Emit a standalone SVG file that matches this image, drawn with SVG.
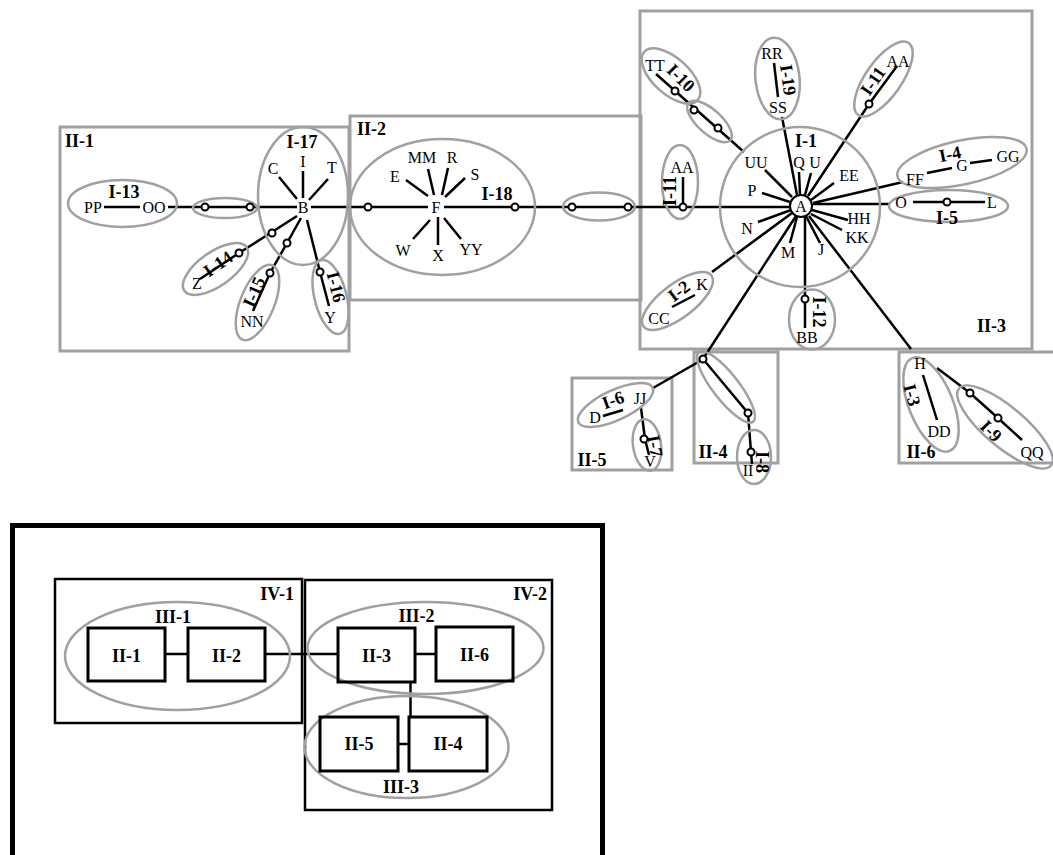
<svg xmlns="http://www.w3.org/2000/svg" width="1053" height="855" viewBox="0 0 1053 855">
<style>
.bx{fill:none;stroke:#a0a0a0;stroke-width:3}
.g{fill:none;stroke:#a0a0a0;stroke-width:2.5}
.ln{fill:none;stroke:#000;stroke-width:2.5}
.c{fill:#fff;stroke:#000;stroke-width:2}
.t{font-family:"Liberation Serif","Times New Roman",serif;font-size:16px;text-anchor:middle;fill:#000}
.b{font-family:"Liberation Serif","Times New Roman",serif;font-size:18px;font-weight:bold;text-anchor:middle;fill:#000}
.bs{text-anchor:start}
.be{text-anchor:end}
.kb{fill:none;stroke:#000;stroke-width:2.5}
.kb3{fill:none;stroke:#000;stroke-width:3}
</style>
<rect width="1053" height="855" fill="#fff"/>

<!-- cluster boxes -->
<g id="II-1"><rect class="bx" x="60" y="127" width="289" height="224"/><text class="b bs" x="65" y="147">II-1</text></g>
<g id="II-2"><rect class="bx" x="350" y="116" width="291" height="184"/><text class="b bs" x="357" y="135">II-2</text></g>
<g id="II-3"><rect class="bx" x="640" y="11" width="392" height="338"/><text class="b bs" x="977" y="332">II-3</text></g>
<g id="II-4"><rect class="bx" x="694" y="352" width="84" height="111"/><text class="b" x="713" y="458">II-4</text></g>
<g id="II-5"><rect class="bx" x="572" y="378" width="100" height="92"/><text class="b" x="592" y="466">II-5</text></g>
<g id="II-6"><rect class="bx" x="899" y="352" width="165" height="111"/><text class="b" x="921" y="458">II-6</text></g>

<!-- connectors -->
<g id="connectors">
<path class="ln" d="M104 207H140M168 207H297M311 207H428M444 207H790"/>
<path class="ln" d="M279 177L297 199M303 171V198M328 179L309 200"/>
<path class="ln" d="M297 216L239 253L200 279"/>
<path class="ln" d="M301 218L287 243L270 273L253 311"/>
<path class="ln" d="M307 220L320 272L329 306"/>
<path class="ln" d="M406 180L428 196M428 169L434 195M448 168L442 195M465 178L445 197M413 239L430 220M438 217V245M444 218L461 239"/>
<path class="ln" d="M765 170L792 197M762 193L790 202M799 172L800 195M811 173L805 195M834 183L811 200M848 220L812 210M842 230L811 214M820 243L806 216M790 243L797 217M758 222L791 210"/>
<path class="ln" d="M782 117L797 195M808 196L869 104L897 66M903 182L813 203M890 204H813M712 272L792 213M703 359L796 216M805 217V328M911 349L809 216M656 74L744 152"/>
<path class="ln" d="M683 177V207M774 63L778 97M672 307L695 295M927 173L952 168M970 163L992 160M913 202H985"/>
<path class="ln" d="M703 359L748 413L751 452L752 464M700 361L653 388M603 416L623 410M641 408L645 439L649 455"/>
<path class="ln" d="M923 375L937 420M937 368L970 393L998 418L1022 440"/>
</g>

<!-- II-1 contents -->
<g id="I-13"><ellipse class="g" cx="122.5" cy="203.5" rx="54.5" ry="23.5"/><text class="b" x="124" y="198">I-13</text><text class="t" x="93" y="213">PP</text><text class="t" x="154" y="213">OO</text></g>
<g id="II-1-link"><ellipse class="g" cx="225" cy="208" rx="32" ry="10"/><circle class="c" cx="205" cy="207" r="3.5"/><circle class="c" cx="250" cy="207" r="3.5"/></g>
<g id="I-17"><ellipse class="g" cx="303" cy="196" rx="45" ry="69"/><text class="b" x="302" y="148">I-17</text><text class="t" x="303" y="213">B</text><text class="t" x="273" y="174">C</text><text class="t" x="303" y="167">I</text><text class="t" x="332" y="173">T</text></g>
<g id="I-14"><ellipse class="g" cx="215.5" cy="269" rx="38" ry="17" transform="rotate(-35 215.5 269)"/><circle class="c" cx="272" cy="233" r="3.5"/><circle class="c" cx="239" cy="253" r="3.5"/><text class="b" transform="translate(218 264) rotate(-35)" y="6">I-14</text><text class="t" x="197" y="289">Z</text></g>
<g id="I-15"><ellipse class="g" cx="257.5" cy="302.5" rx="40" ry="17" transform="rotate(-68 257.5 302.5)"/><circle class="c" cx="287" cy="243" r="3.5"/><circle class="c" cx="270" cy="273" r="3.5"/><text class="b" transform="translate(254 292) rotate(-66)" y="6">I-15</text><text class="t" x="252" y="327">NN</text></g>
<g id="I-16"><ellipse class="g" cx="330.5" cy="297" rx="38" ry="16" transform="rotate(76 330.5 297)"/><circle class="c" cx="320" cy="272" r="3.5"/><text class="b" transform="translate(336 287) rotate(76)" y="6">I-16</text><text class="t" x="330" y="323">Y</text></g>

<!-- II-2 contents -->
<g id="I-18"><ellipse class="g" cx="442.5" cy="207" rx="92.5" ry="68"/><circle class="c" cx="368" cy="207" r="3.5"/><circle class="c" cx="515" cy="207" r="3.5"/><text class="b" x="497" y="200">I-18</text><text class="t" x="436" y="213">F</text><text class="t" x="395" y="182">E</text><text class="t" x="422" y="163">MM</text><text class="t" x="452" y="163">R</text><text class="t" x="475" y="180">S</text><text class="t" x="403" y="256">W</text><text class="t" x="438" y="261">X</text><text class="t" x="471" y="255">YY</text></g>
<g id="II-2-link"><ellipse class="g" cx="599" cy="206.5" rx="36" ry="14"/><circle class="c" cx="572" cy="207" r="3.5"/><circle class="c" cx="628" cy="207" r="3.5"/></g>

<!-- II-3 contents -->
<g id="I-1"><circle class="g" cx="800" cy="207" r="80"/><circle class="c" cx="801" cy="206" r="11"/><text class="t" x="801" y="212">A</text><text class="b" x="806" y="147">I-1</text>
<text class="t" x="756" y="168">UU</text><text class="t" x="799" y="168">Q</text><text class="t" x="815" y="168">U</text><text class="t" x="849" y="181">EE</text><text class="t" x="752" y="196">P</text><text class="t" x="859" y="224">HH</text><text class="t" x="857" y="243">KK</text><text class="t" x="747" y="234">N</text><text class="t" x="788" y="258">M</text><text class="t" x="821" y="255">J</text></g>
<g id="I-11a"><ellipse class="g" cx="680" cy="182" rx="18" ry="37"/><circle class="c" cx="683" cy="207" r="3.5"/><text class="t" x="682" y="173">AA</text><text class="b" transform="translate(670 191) rotate(-90)" y="6">I-11</text></g>
<g id="I-10"><ellipse class="g" cx="671" cy="76" rx="36" ry="18" transform="rotate(42 671 76)"/><circle class="c" cx="675" cy="91" r="3.5"/><text class="t" x="655" y="71">TT</text><text class="b" transform="translate(681 78) rotate(45)" y="6">I-10</text></g>
<g id="II-3-link"><ellipse class="g" cx="709.5" cy="121.5" rx="28" ry="12" transform="rotate(42 709.5 121.5)"/><circle class="c" cx="694" cy="110" r="3.5"/><circle class="c" cx="718" cy="128" r="3.5"/></g>
<g id="I-19"><ellipse class="g" cx="777.5" cy="78.5" rx="22" ry="41" transform="rotate(-6 777.5 78.5)"/><text class="t" x="772" y="59">RR</text><text class="t" x="778" y="113">SS</text><text class="b" transform="translate(788 80) rotate(82)" y="6">I-19</text></g>
<g id="I-11b"><ellipse class="g" cx="883.5" cy="79" rx="44" ry="18" transform="rotate(-55 883.5 79)"/><circle class="c" cx="869" cy="104" r="3.5"/><text class="t" x="898" y="67">AA</text><text class="b" transform="translate(873 81) rotate(-55)" y="6">I-11</text></g>
<g id="I-4"><ellipse class="g" cx="962" cy="162.5" rx="66" ry="22" transform="rotate(-12 962 162.5)"/><text class="b" transform="translate(950 154) rotate(-12)" y="6">I-4</text><text class="t" x="915" y="185">FF</text><text class="t" x="962" y="171">G</text><text class="t" x="1008" y="162">GG</text></g>
<g id="I-5"><ellipse class="g" cx="948.5" cy="206" rx="59.5" ry="16"/><circle class="c" cx="947" cy="202" r="3.5"/><text class="t" x="901" y="208">O</text><text class="t" x="992" y="208">L</text><text class="b" x="947" y="224">I-5</text></g>
<g id="I-2"><ellipse class="g" cx="677.5" cy="301" rx="42.5" ry="17" transform="rotate(-37 677.5 301)"/><text class="t" x="702" y="290">K</text><text class="t" x="659" y="324">CC</text><text class="b" transform="translate(679 291) rotate(-37)" y="6">I-2</text></g>
<g id="I-12"><ellipse class="g" cx="812" cy="319.5" rx="23" ry="30"/><circle class="c" cx="805" cy="299" r="3.5"/><text class="t" x="807" y="343">BB</text><text class="b" transform="translate(819 312) rotate(90)" y="6">I-12</text></g>

<!-- II-4 / II-5 contents -->
<g id="II-4-link"><ellipse class="g" cx="726" cy="387" rx="44" ry="13" transform="rotate(52 726 387)"/><circle class="c" cx="703" cy="359" r="3.5"/><circle class="c" cx="748" cy="413" r="3.5"/></g>
<g id="I-8"><ellipse class="g" cx="754" cy="457" rx="17" ry="27"/><circle class="c" cx="751" cy="452" r="3.5"/><text class="t" x="748" y="476">II</text><text class="b" transform="translate(762 462) rotate(90)" y="6">I-8</text></g>
<g id="I-6"><ellipse class="g" cx="615.5" cy="405" rx="41" ry="15" transform="rotate(-25 615.5 405)"/><text class="t" x="595" y="423">D</text><text class="t" x="640" y="404">JJ</text><text class="b" transform="translate(613 400) rotate(-20)" y="6">I-6</text></g>
<g id="I-7"><ellipse class="g" cx="647" cy="445" rx="14" ry="26" transform="rotate(-8 647 445)"/><circle class="c" cx="644" cy="439" r="3.5"/><text class="t" x="650" y="467">V</text><text class="b" transform="translate(655 446) rotate(80)" y="6">I-7</text></g>

<!-- II-6 contents -->
<g id="I-3"><ellipse class="g" cx="931" cy="404.5" rx="50" ry="22" transform="rotate(68 931 404.5)"/><text class="t" x="920" y="369">H</text><text class="t" x="939" y="437">DD</text><text class="b" transform="translate(912 395) rotate(75)" y="6">I-3</text></g>
<g id="I-9"><ellipse class="g" cx="1005" cy="427" rx="60" ry="20" transform="rotate(40 1005 427)"/><circle class="c" cx="970" cy="393" r="3.5"/><circle class="c" cx="998" cy="418" r="3.5"/><text class="t" x="1032" y="458">QQ</text><text class="b" transform="translate(991 431) rotate(45)" y="6">I-9</text></g>

<!-- lower overview -->
<g id="overview">
<rect x="12.5" y="525.5" width="590" height="345" fill="none" stroke="#000" stroke-width="5"/>
<g id="IV-1"><rect class="kb" x="55" y="579" width="247" height="144"/><text class="b be" x="294" y="600">IV-1</text></g>
<g id="IV-2"><rect class="kb" x="305" y="580" width="247" height="230"/><text class="b be" x="547" y="600">IV-2</text></g>
<g id="overview-connectors">
<path class="ln" d="M165 654H188M265 654H338M415 654H436M410.5 682V717M398 744H409"/>
</g>
<g id="III-1"><ellipse class="g" cx="177.5" cy="656" rx="112.5" ry="54"/><text class="b" x="173" y="623">III-1</text></g>
<g id="III-2"><ellipse class="g" cx="425.5" cy="648" rx="118" ry="46"/><text class="b" x="416.5" y="622">III-2</text></g>
<g id="III-3"><ellipse class="g" cx="406.5" cy="747" rx="102" ry="51"/><text class="b" x="401" y="793">III-3</text></g>
<g id="n-II-1"><rect class="kb3" x="88" y="628" width="77" height="53"/><text class="b" x="126.5" y="662">II-1</text></g>
<g id="n-II-2"><rect class="kb3" x="188" y="628" width="77" height="53"/><text class="b" x="226.5" y="662">II-2</text></g>
<g id="n-II-3"><rect class="kb3" x="338" y="628" width="77" height="54"/><text class="b" x="376.5" y="662">II-3</text></g>
<g id="n-II-6"><rect class="kb3" x="436" y="627" width="77" height="54"/><text class="b" x="474.5" y="661">II-6</text></g>
<g id="n-II-5"><rect class="kb3" x="320" y="717" width="78" height="54"/><text class="b" x="359" y="750">II-5</text></g>
<g id="n-II-4"><rect class="kb3" x="409" y="717" width="78" height="54"/><text class="b" x="448" y="750">II-4</text></g>
</g>
</svg>
